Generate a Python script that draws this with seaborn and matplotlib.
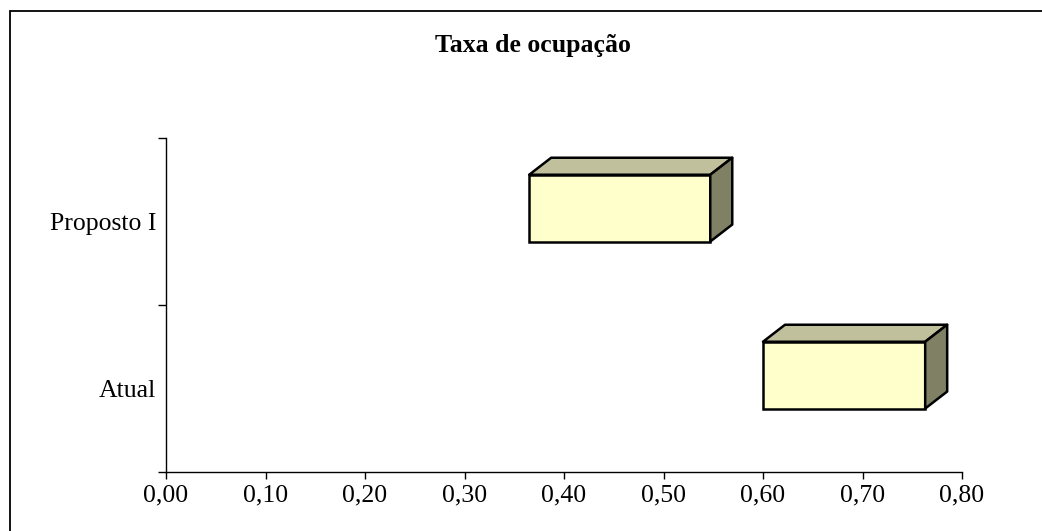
import matplotlib
matplotlib.use("Agg")
import matplotlib.pyplot as plt
from matplotlib.patches import Polygon, Rectangle
import numpy as np
import pandas as pd
import seaborn as sns

# Occupancy-rate ranges per scenario
categories = ["Proposto I", "Atual"]
range_start = [0.365, 0.600]
range_end = [0.547, 0.763]
x_ticks = [0.0, 0.1, 0.2, 0.3, 0.4, 0.5, 0.6, 0.7, 0.8]
x_tick_labels = ["0,00", "0,10", "0,20", "0,30", "0,40", "0,50", "0,60", "0,70", "0,80"]
title = "Taxa de ocupação"

df = pd.DataFrame({"cenario": categories, "inicio": range_start, "fim": range_end})

sns.set_theme(style="white")
plt.rcParams["font.family"] = ["Liberation Serif", "DejaVu Serif"]

FRONT = "#FFFFCC"
TOP = "#C0C09C"
SIDE = "#808064"
EDGE = "black"
LW = 1.8
FS = 18.5

fig = plt.figure(figsize=(10.42, 5.31), dpi=100)
W, H = 1042, 531
ax = fig.add_axes([166 / W, 1 - 472 / H, (962 - 166) / W, (472 - 138) / H])

sns.barplot(data=df, x="fim", y="cenario", order=categories, orient="h",
            color=FRONT, saturation=1, width=0.40, edgecolor=EDGE,
            linewidth=LW, ax=ax, zorder=3)

ax.set_xlim(0, 0.8)
ax.set_ylim(1.5, -0.5)

# Turn each bar into a floating range and lift it slightly
shift = -0.08
for patch, start, end in zip(ax.patches, df["inicio"], df["fim"]):
    patch.set_x(start)
    patch.set_width(end - start)
    patch.set_y(patch.get_y() + shift)
    patch.set_joinstyle("miter")

# Depth faces for a 3D box look (offset given in pixels)
dx_px, dy_px = 22, 17
to_disp = ax.transData
to_data = ax.transData.inverted()
for patch in list(ax.patches):
    x0, y0 = patch.get_x(), patch.get_y()
    x1, y1 = x0 + patch.get_width(), y0 + patch.get_height()
    # y0 is the upper edge (inverted axis)
    p_tl = to_disp.transform((x0, y0))
    p_tr = to_disp.transform((x1, y0))
    p_br = to_disp.transform((x1, y1))
    off = np.array([dx_px, dy_px])
    top = [p_tl, p_tr, p_tr + off, p_tl + off]
    side = [p_tr, p_br, p_br + off, p_tr + off]
    ax.add_patch(Polygon(to_data.transform(top), closed=True, facecolor=TOP,
                         edgecolor=EDGE, linewidth=LW, zorder=3, joinstyle="round"))
    ax.add_patch(Polygon(to_data.transform(side), closed=True, facecolor=SIDE,
                         edgecolor=EDGE, linewidth=LW, zorder=3, joinstyle="round"))

# Axes styling
sns.despine(ax=ax, top=True, right=True)
for s in ("left", "bottom"):
    ax.spines[s].set_color("black")
    ax.spines[s].set_linewidth(1.0)
ax.set_xlabel("")
ax.set_ylabel("")

ax.set_xticks(x_ticks)
ax.set_xticklabels(x_tick_labels, fontsize=FS)
ax.tick_params(axis="x", direction="out", length=5, width=1, color="black",
               pad=4, bottom=True, labelcolor="black")

ax.set_yticks([-0.5, 0.5, 1.5])
ax.set_yticklabels(["", "", ""])
ax.set_yticks([0, 1], minor=True)
ax.set_yticklabels(categories, minor=True, fontsize=FS)
ax.tick_params(axis="y", which="major", direction="out", length=6, width=1,
               color="black", left=True)
ax.tick_params(axis="y", which="minor", length=0, pad=7, left=True,
               labelcolor="black")

fig.text(533 / W, 1 - 52 / H, title, ha="center", va="baseline",
         fontsize=FS, fontweight="bold", color="black")

# Frame around the chart area
fig.patches.append(Rectangle((10 / W, -0.05), 1.1, 1 - 11 / H + 0.05,
                             transform=fig.transFigure, fill=False,
                             edgecolor="black", linewidth=1.3))

fig.savefig("out.png", dpi=100, facecolor="white")
